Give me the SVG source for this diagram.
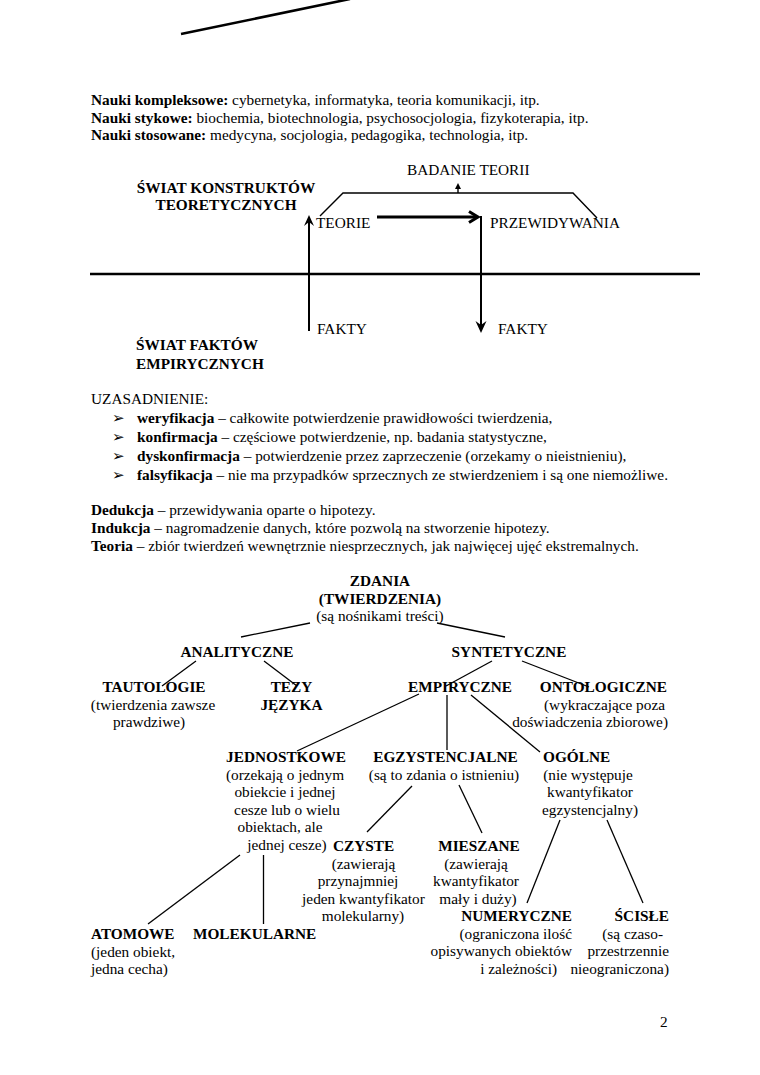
<svg xmlns="http://www.w3.org/2000/svg" width="760" height="1075" viewBox="0 0 760 1075">
<style>
text{font-family:"Liberation Serif","Times New Roman",serif;font-size:15.3px;fill:#000}
.b{font-weight:bold}
.m{text-anchor:middle}
.e{text-anchor:end}
.bl{font-family:"DejaVu Sans",sans-serif;font-size:15px}
.ln{stroke:#000;stroke-width:1.3;fill:none}
.th{stroke:#000;fill:none}
</style>
<rect width="760" height="1075" fill="#fff"/>
<line x1="181" y1="34" x2="350" y2="-1" stroke="#000" stroke-width="2.6"/>

<g id="nauki">
<text x="91" y="105"><tspan class="b">Nauki kompleksowe:</tspan> cybernetyka, informatyka, teoria komunikacji, itp.</text>
<text x="91" y="122.6"><tspan class="b">Nauki stykowe:</tspan> biochemia, biotechnologia, psychosocjologia, fizykoterapia, itp.</text>
<text x="91" y="140.2"><tspan class="b">Nauki stosowane:</tspan> medycyna, socjologia, pedagogika, technologia, itp.</text>
</g>

<g id="swiat-konstruktow">
<text class="b m" x="226" y="193">ŚWIAT KONSTRUKTÓW</text>
<text class="b m" x="226" y="210">TEORETYCZNYCH</text>
</g>
<g id="swiat-faktow">
<text class="b" x="136" y="350">ŚWIAT FAKTÓW</text>
<text class="b" x="136" y="369">EMPIRYCZNYCH</text>
</g>
<g id="badanie-teorii"><text x="407" y="175">BADANIE TEORII</text></g>
<g id="teorie"><text x="316" y="228">TEORIE</text></g>
<g id="przewidywania"><text x="490" y="228">PRZEWIDYWANIA</text></g>
<g id="fakty1"><text x="317" y="334">FAKTY</text></g>
<g id="fakty2"><text x="498" y="334">FAKTY</text></g>

<g id="schema-connectors">
<line x1="90" y1="274" x2="700" y2="274" stroke="#000" stroke-width="2.4"/>
<polyline class="th" stroke-width="1.4" points="320,216 343,193 573,193 597,218"/>
<line class="th" stroke-width="1.4" x1="458" y1="193" x2="458" y2="187"/>
<path d="M458,183 L455,189 L461,189 Z" fill="#000"/>
<line class="th" stroke-width="2" x1="309" y1="331" x2="309" y2="220"/>
<path d="M309,215 L304,226 L309,222 L314,226 Z" fill="#000"/>
<line class="th" stroke-width="3" x1="377" y1="217" x2="477" y2="217"/>
<polyline class="th" stroke-width="3" points="469,211.5 478,217 469,222.5"/>
<line class="th" stroke-width="2" x1="481" y1="216" x2="481" y2="327"/>
<path d="M481,333 L475.5,321 L481,325 L486.5,321 Z" fill="#000"/>
</g>

<g id="uzasadnienie">
<text x="91" y="404">UZASADNIENIE:</text>
<text class="bl" x="112" y="423">➢</text>
<text x="137" y="423"><tspan class="b">weryfikacja</tspan> – całkowite potwierdzenie prawidłowości twierdzenia,</text>
<text class="bl" x="112" y="442">➢</text>
<text x="137" y="442"><tspan class="b">konfirmacja</tspan> – częściowe potwierdzenie, np. badania statystyczne,</text>
<text class="bl" x="112" y="461">➢</text>
<text x="137" y="461"><tspan class="b">dyskonfirmacja</tspan> – potwierdzenie przez zaprzeczenie (orzekamy o nieistnieniu),</text>
<text class="bl" x="112" y="480">➢</text>
<text x="137" y="480"><tspan class="b">falsyfikacja</tspan> – nie ma przypadków sprzecznych ze stwierdzeniem i są one niemożliwe.</text>
</g>

<g id="definicje">
<text x="91" y="515"><tspan class="b">Dedukcja</tspan> – przewidywania oparte o hipotezy.</text>
<text x="91" y="533"><tspan class="b">Indukcja</tspan> – nagromadzenie danych, które pozwolą na stworzenie hipotezy.</text>
<text x="91" y="551"><tspan class="b">Teoria</tspan> – zbiór twierdzeń wewnętrznie niesprzecznych, jak najwięcej ujęć ekstremalnych.</text>
</g>

<g id="zdania">
<text class="b m" x="380" y="586">ZDANIA</text>
<text class="b m" x="380" y="603.6">(TWIERDZENIA)</text>
<text class="m" x="380" y="621.2">(są nośnikami treści)</text>
</g>
<g id="analityczne"><text class="b m" x="237" y="657">ANALITYCZNE</text></g>
<g id="syntetyczne"><text class="b m" x="509" y="657">SYNTETYCZNE</text></g>
<g id="tautologie">
<text class="b m" x="154" y="692">TAUTOLOGIE</text>
<text class="m" x="153" y="709.6">(twierdzenia zawsze</text>
<text class="m" x="149" y="727.2">prawdziwe)</text>
</g>
<g id="tezy-jezyka">
<text class="b m" x="291.5" y="692">TEZY</text>
<text class="b m" x="291.5" y="709.6">JĘZYKA</text>
</g>
<g id="empiryczne"><text class="b m" x="460" y="692">EMPIRYCZNE</text></g>
<g id="ontologiczne">
<text class="b e" x="667" y="692">ONTOLOGICZNE</text>
<text class="e" x="665" y="709.6">(wykraczające poza</text>
<text class="e" x="668" y="727.2">doświadczenia zbiorowe)</text>
</g>
<g id="jednostkowe">
<text class="b m" x="286" y="762">JEDNOSTKOWE</text>
<text class="m" x="285" y="779.6">(orzekają o jednym</text>
<text class="m" x="285" y="797.2">obiekcie i jednej</text>
<text class="m" x="287" y="814.8">cesze lub o wielu</text>
<text class="m" x="280" y="832.4">obiektach, ale</text>
<text class="m" x="287" y="850">jednej cesze)</text>
</g>
<g id="egzystencjalne">
<text class="b m" x="445.5" y="762">EGZYSTENCJALNE</text>
<text class="m" x="444" y="779.6">(są to zdania o istnieniu)</text>
</g>
<g id="ogolne">
<text class="b" x="543" y="762">OGÓLNE</text>
<text class="m" x="588" y="779.6">(nie występuje</text>
<text class="m" x="590" y="797.2">kwantyfikator</text>
<text class="m" x="590" y="814.8">egzystencjalny)</text>
</g>
<g id="czyste">
<text class="b m" x="363.5" y="851">CZYSTE</text>
<text class="m" x="363.5" y="868.6">(zawierają</text>
<text class="m" x="358" y="886.2">przynajmniej</text>
<text class="m" x="363.5" y="903.8">jeden kwantyfikator</text>
<text class="m" x="363" y="921.4">molekularny)</text>
</g>
<g id="mieszane">
<text class="b m" x="479" y="851">MIESZANE</text>
<text class="m" x="476" y="868.6">(zawierają</text>
<text class="m" x="476" y="886.2">kwantyfikator</text>
<text class="m" x="478" y="903.8">mały i duży)</text>
</g>
<g id="numeryczne">
<text class="b e" x="572" y="921">NUMERYCZNE</text>
<text class="e" x="572" y="938.6">(ograniczona ilość</text>
<text class="e" x="572" y="956.2">opisywanych obiektów</text>
<text class="e" x="557" y="973.8">i zależności)</text>
</g>
<g id="scisle">
<text class="b e" x="669" y="921">ŚCISŁE</text>
<text class="e" x="663" y="938.6">(są czaso-</text>
<text class="e" x="669" y="956.2">przestrzennie</text>
<text class="e" x="669" y="973.8">nieograniczona)</text>
</g>
<g id="atomowe">
<text class="b" x="91" y="939">ATOMOWE</text>
<text x="91" y="956.6">(jeden obiekt,</text>
<text x="91" y="974.2">jedna cecha)</text>
</g>
<g id="molekularne"><text class="b" x="193" y="939">MOLEKULARNE</text></g>

<g id="tree-connectors" class="ln">
<line x1="241" y1="637" x2="310" y2="623"/>
<line x1="437" y1="623" x2="505" y2="637"/>
<line x1="196" y1="661" x2="162" y2="686"/>
<line x1="264" y1="661" x2="297" y2="686"/>
<line x1="492" y1="661" x2="446" y2="686"/>
<line x1="522" y1="661" x2="589" y2="687"/>
<line x1="419" y1="694" x2="297" y2="751"/>
<line x1="447" y1="695" x2="447" y2="750"/>
<line x1="471" y1="695" x2="540" y2="752"/>
<line x1="412" y1="786" x2="367" y2="832"/>
<line x1="459" y1="785" x2="482" y2="833"/>
<line x1="560" y1="820" x2="527" y2="903"/>
<line x1="607" y1="820" x2="643" y2="903"/>
<line x1="240" y1="855" x2="148" y2="924"/>
<line x1="263.5" y1="855" x2="263.5" y2="924"/>
</g>

<g id="page-number"><text x="660" y="1027">2</text></g>
</svg>
